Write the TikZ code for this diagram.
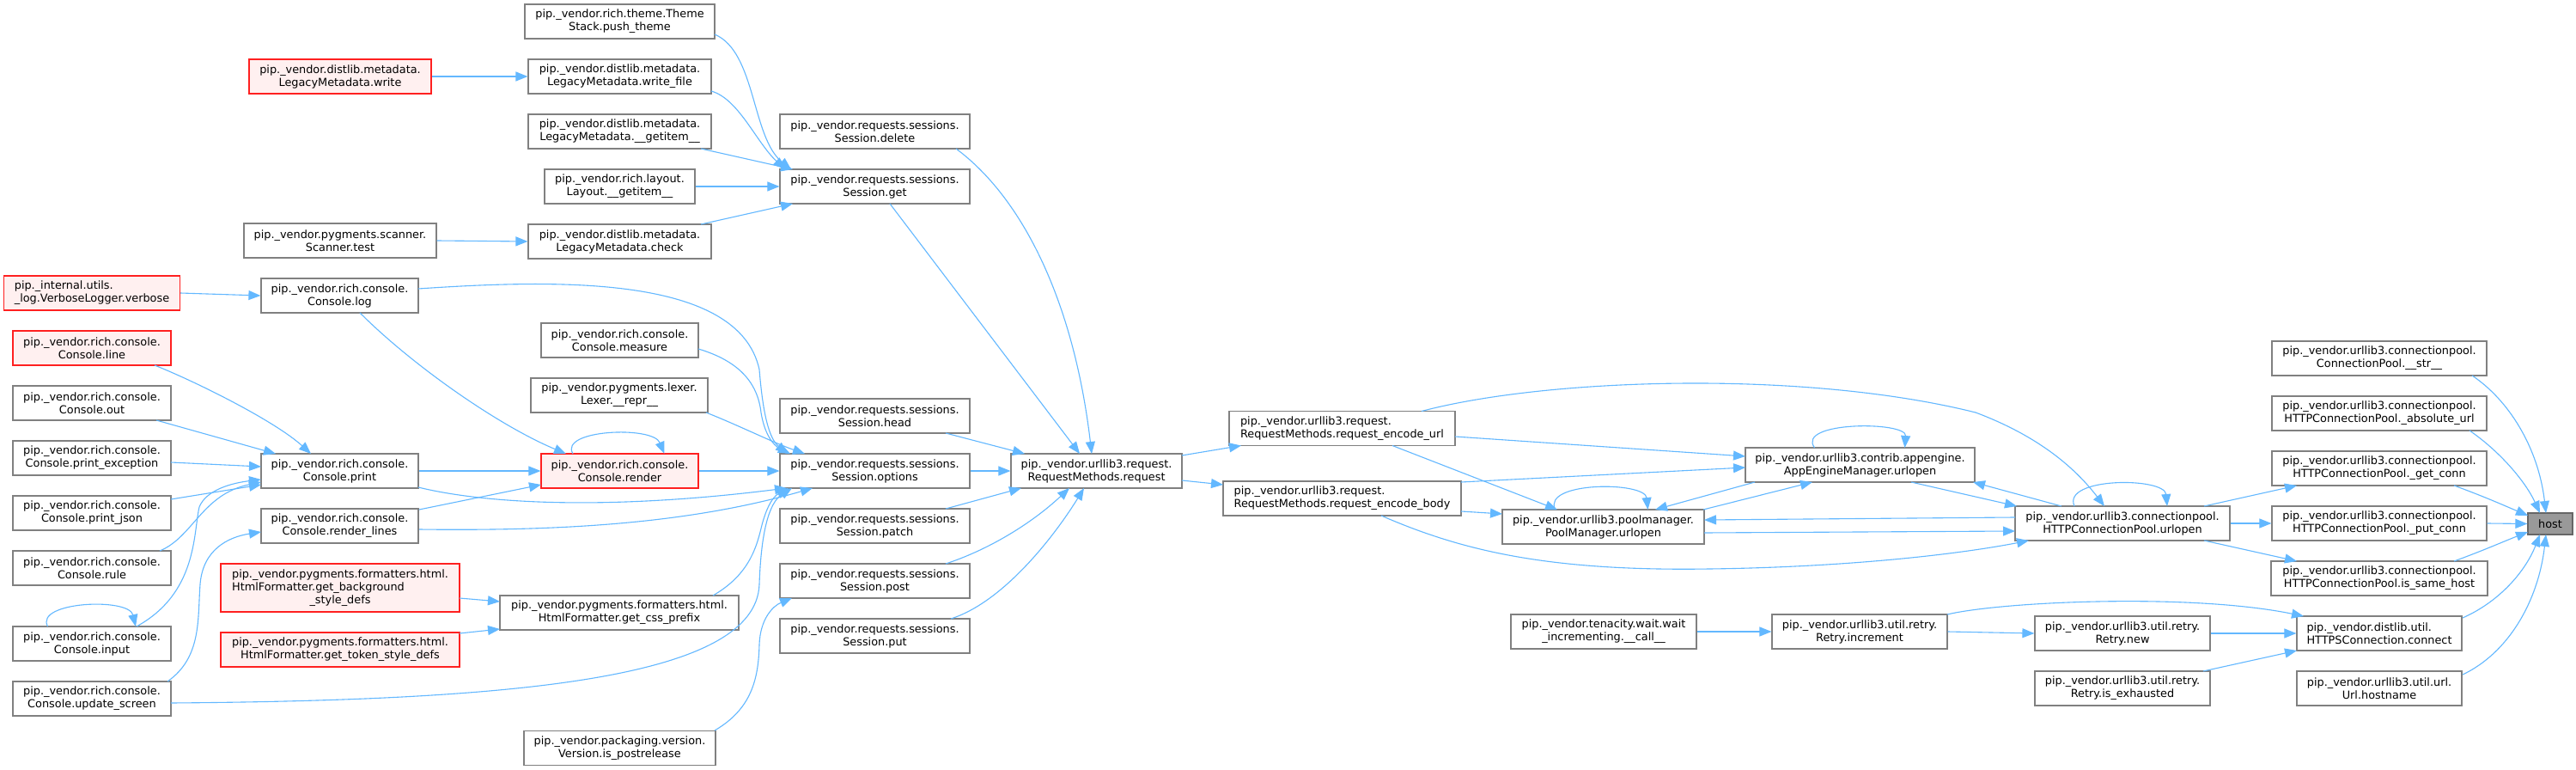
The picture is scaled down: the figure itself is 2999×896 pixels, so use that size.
\documentclass[tikz,border=0pt]{standalone}
\usepackage{fontspec}
\setmainfont{DejaVu Sans}
\usetikzlibrary{arrows.meta,calc}
\definecolor{edgeblue}{HTML}{63B8FF}
\definecolor{nodegray}{HTML}{808080}
\definecolor{redfill}{HTML}{FFF0F0}
\definecolor{redline}{HTML}{FF2020}
\definecolor{hostfill}{HTML}{999999}
\begin{document}
\begin{tikzpicture}[x=1pt,y=-1pt,
 nb/.style={draw=nodegray, fill=white, line width=1.2pt, minimum height=40pt, inner xsep=2pt, inner ysep=0pt, align=center, font=\fontsize{12.85}{15}\selectfont},
 nr/.style={nb, draw=redline, fill=redfill},
 ed/.style={draw=edgeblue, line width=1.1pt, -{Triangle[length=14pt,width=11pt]}},
]
\fill[white] (0,0) rectangle (2999,896);
\useasboundingbox (0,0) rectangle (2999,896);

% column 1
\node[nr,minimum width=205pt,align=left] (verbose) at (107,341) {pip.\_internal.utils.\\\_log.VerboseLogger.verbose};
\node[nr,minimum width=184pt] (consoleline) at (107,405) {pip.\_vendor.rich.console.\\Console.line};
\node[nb,minimum width=184pt] (consoleout) at (107,469) {pip.\_vendor.rich.console.\\Console.out};
\node[nb,minimum width=184pt] (printexception) at (107,533) {pip.\_vendor.rich.console.\\Console.print\_exception};
\node[nb,minimum width=184pt] (printjson) at (107,597) {pip.\_vendor.rich.console.\\Console.print\_json};
\node[nb,minimum width=184pt] (rule) at (107,661) {pip.\_vendor.rich.console.\\Console.rule};
\node[nb,minimum width=184pt] (input) at (107,749) {pip.\_vendor.rich.console.\\Console.input};
\node[nb,minimum width=184pt] (updatescreen) at (107,813) {pip.\_vendor.rich.console.\\Console.update\_screen};

% column 2
\node[nr,minimum width=212pt] (write) at (396,89) {pip.\_vendor.distlib.metadata.\\LegacyMetadata.write};
\node[nb,minimum width=224pt] (scannertest) at (396,280) {pip.\_vendor.pygments.scanner.\\Scanner.test};
\node[nb,minimum width=183pt] (consolelog) at (395.5,344) {pip.\_vendor.rich.console.\\Console.log};
\node[nb,minimum width=183pt] (consoleprint) at (395.5,548) {pip.\_vendor.rich.console.\\Console.print};
\node[nb,minimum width=183pt] (renderlines) at (395.5,612) {pip.\_vendor.rich.console.\\Console.render\_lines};
\node[nr,minimum width=278pt,minimum height=56pt] (bgstyledefs) at (396,684) {\begin{tabular}{@{}l@{}}pip.\_vendor.pygments.formatters.html.\\HtmlFormatter.get\_background\\\multicolumn{1}{@{}c@{}}{\_style\_defs}\end{tabular}};
\node[nr,minimum width=278pt] (tokenstyledefs) at (396,756) {pip.\_vendor.pygments.formatters.html.\\HtmlFormatter.get\_token\_style\_defs};

% column 3
\node[nb,minimum width=221pt] (pushtheme) at (721.5,25) {pip.\_vendor.rich.theme.Theme\\Stack.push\_theme};
\node[nb,minimum width=213pt] (writefile) at (721.5,89) {pip.\_vendor.distlib.metadata.\\LegacyMetadata.write\_file};
\node[nb,minimum width=213pt] (lmgetitem) at (721.5,153) {pip.\_vendor.distlib.metadata.\\LegacyMetadata.\_\_getitem\_\_};
\node[nb,minimum width=175pt] (layoutgetitem) at (721.5,217) {pip.\_vendor.rich.layout.\\Layout.\_\_getitem\_\_};
\node[nb,minimum width=213pt] (check) at (721.5,281) {pip.\_vendor.distlib.metadata.\\LegacyMetadata.check};
\node[nb,minimum width=183pt] (measure) at (721.5,396) {pip.\_vendor.rich.console.\\Console.measure};
\node[nb,minimum width=206pt] (lexerrepr) at (721,460) {pip.\_vendor.pygments.lexer.\\Lexer.\_\_repr\_\_};
\node[nr,minimum width=183pt] (render) at (721.5,548) {pip.\_vendor.rich.console.\\Console.render};
\node[nb,minimum width=278pt] (csspref) at (721,713) {pip.\_vendor.pygments.formatters.html.\\HtmlFormatter.get\_css\_prefix};
\node[nb,minimum width=223pt] (ispostrelease) at (721.5,870.5) {pip.\_vendor.packaging.version.\\Version.is\_postrelease};

% column 4
\node[nb,minimum width=221pt] (sdelete) at (1018.5,153) {pip.\_vendor.requests.sessions.\\Session.delete};
\node[nb,minimum width=221pt] (sget) at (1018.5,217) {pip.\_vendor.requests.sessions.\\Session.get};
\node[nb,minimum width=221pt] (shead) at (1018.5,484) {pip.\_vendor.requests.sessions.\\Session.head};
\node[nb,minimum width=221pt] (soptions) at (1018.5,548) {pip.\_vendor.requests.sessions.\\Session.options};
\node[nb,minimum width=221pt] (spatch) at (1018.5,612) {pip.\_vendor.requests.sessions.\\Session.patch};
\node[nb,minimum width=221pt] (spost) at (1018.5,676) {pip.\_vendor.requests.sessions.\\Session.post};
\node[nb,minimum width=221pt] (sput) at (1018.5,740) {pip.\_vendor.requests.sessions.\\Session.put};

% column 5-6
\node[nb,minimum width=199pt] (request) at (1276.5,548) {pip.\_vendor.urllib3.request.\\RequestMethods.request};
\node[nb,minimum width=263pt,align=left] (encurl) at (1562.5,498.5) {pip.\_vendor.urllib3.request.\\RequestMethods.request\_encode\_url};
\node[nb,minimum width=277pt,align=left] (encbody) at (1562.5,580) {pip.\_vendor.urllib3.request.\\RequestMethods.request\_encode\_body};

% column 7-8
\node[nb,minimum width=235pt] (poolmgr) at (1866.5,613) {pip.\_vendor.urllib3.poolmanager.\\PoolManager.urlopen};
\node[nb,minimum width=216pt] (waitinc) at (1867,735) {pip.\_vendor.tenacity.wait.wait\\\_incrementing.\_\_call\_\_};
\node[nb,minimum width=267pt] (appengine) at (2165.5,541) {pip.\_vendor.urllib3.contrib.appengine.\\AppEngineManager.urlopen};
\node[nb,minimum width=204pt] (retryinc) at (2165,735) {pip.\_vendor.urllib3.util.retry.\\Retry.increment};

% column 9
\node[nb,minimum width=250pt] (hcpurlopen) at (2471,609) {pip.\_vendor.urllib3.connectionpool.\\HTTPConnectionPool.urlopen};
\node[nb,minimum width=204pt] (retrynew) at (2471,737) {pip.\_vendor.urllib3.util.retry.\\Retry.new};
\node[nb,minimum width=204pt] (retryexh) at (2471,801) {pip.\_vendor.urllib3.util.retry.\\Retry.is\_exhausted};

% column 10
\node[nb,minimum width=250pt] (cpstr) at (2770,417) {pip.\_vendor.urllib3.connectionpool.\\ConnectionPool.\_\_str\_\_};
\node[nb,minimum width=250pt] (absurl) at (2770,481) {pip.\_vendor.urllib3.connectionpool.\\HTTPConnectionPool.\_absolute\_url};
\node[nb,minimum width=250pt] (getconn) at (2770,545) {pip.\_vendor.urllib3.connectionpool.\\HTTPConnectionPool.\_get\_conn};
\node[nb,minimum width=250pt] (putconn) at (2770,609) {pip.\_vendor.urllib3.connectionpool.\\HTTPConnectionPool.\_put\_conn};
\node[nb,minimum width=252pt] (samehost) at (2770,673) {pip.\_vendor.urllib3.connectionpool.\\HTTPConnectionPool.is\_same\_host};
\node[nb,minimum width=192pt,align=left] (connect) at (2770,737) {pip.\_vendor.distlib.util.\\HTTPSConnection.connect};
\node[nb,minimum width=192pt] (hostname) at (2770,801) {pip.\_vendor.urllib3.util.url.\\Url.hostname};

\node[nb,draw=black!60,fill=hostfill,minimum width=52pt,minimum height=25pt] (host) at (2969,609.5) {host};

% edges
\draw[ed] ($(pushtheme)+(110.5,15)$) .. controls (880,60) and (875,160) .. ($(sget)+(-97.5,-20)$);
\draw[ed] (write.east) -- (writefile.west);
\draw[ed] ($(writefile)+(106.5,17)$) .. controls (860,115) and (880,165) .. ($(sget)+(-104.5,-20)$);
\draw[ed] ($(lmgetitem)+(94.5,20)$) -- ($(sget)+(-95.5,-20)$);
\draw[ed] (layoutgetitem.east) -- (sget.west);
\draw[ed] ($(check)+(94.5,-20)$) -- ($(sget)+(-95.5,20)$);
\draw[ed] (scannertest.east) -- (check.west);
\draw[ed] (verbose.east) -- (consolelog.west);
\draw[ed] ($(consolelog)+(91.5,-8)$) .. controls (650,325) and (860,320) .. (884,430) .. controls (888,480) and (895,510) .. ($(soptions)+(-101.5,-20)$);
\draw[ed] ($(consolelog)+(23.5,20)$) .. controls (480,425) and (580,495) .. ($(render)+(-62.5,-20)$);
\draw[ed] ($(consoleline)+(73,20)$) .. controls (230,445) and (320,490) .. ($(consoleprint)+(-33.5,-20)$);
\draw[ed] ($(consoleout)+(75,20)$) -- ($(consoleprint)+(-74.5,-20)$);
\draw[ed] ($(printexception)+(92,5)$) -- ($(consoleprint)+(-91.5,-5)$);
\draw[ed] ($(printjson)+(92,-16)$) -- ($(consoleprint)+(-91.5,16)$);
\draw[ed] ($(rule)+(79,-20)$) .. controls (225,625) and (235,575) .. ($(consoleprint)+(-91.5,13)$);
\draw[ed] ($(input)+(52,-20)$) .. controls (230,690) and (225,620) .. (232,590) .. controls (240,570) and (270,562) .. ($(consoleprint)+(-91.5,10)$);
\draw[ed] ($(input)+(-51.5,-20)$) .. controls (40,700) and (150,695) .. ($(input)+(51,-20)$);
\draw[ed] ($(updatescreen)+(88,-20)$) .. controls (235,765) and (230,720) .. (233,680) .. controls (236,640) and (265,625) .. ($(renderlines)+(-91.5,7)$);
\draw[ed] ($(updatescreen)+(92,5)$) .. controls (600,815) and (880,790) .. (884,680) .. controls (886,620) and (895,585) .. ($(soptions)+(-96.5,20)$);
\draw[ed] (consoleprint.east) -- (render.west);
\draw[ed] ($(consoleprint)+(91.5,19)$) .. controls (560,585) and (700,595) .. ($(soptions)+(-102.5,20)$);
\draw[ed] ($(renderlines)+(92.5,-19)$) -- ($(render)+(-91.5,16)$);
\draw[ed] ($(renderlines)+(92.5,4)$) .. controls (650,618) and (800,610) .. ($(soptions)+(-72.5,20)$);
\draw[ed] (render.east) -- (soptions.west);
\draw[ed] ($(render)+(-54.5,-20)$) .. controls (650,500) and (760,495) .. ($(render)+(52,-20)$);
\draw[ed] ($(measure)+(91.5,10)$) .. controls (860,420) and (882,445) .. (886,480) .. controls (890,505) and (900,518) .. ($(soptions)+(-98.5,-20)$);
\draw[ed] ($(lexerrepr)+(101,20)$) .. controls (860,495) and (900,515) .. ($(soptions)+(-81.5,-20)$);
\draw[ed] ($(bgstyledefs)+(139,12)$) -- ($(csspref)+(-139,-13)$);
\draw[ed] ($(tokenstyledefs)+(139,-19)$) -- ($(csspref)+(-139,19)$);
\draw[ed] ($(csspref)+(109,-20)$) .. controls (870,670) and (880,640) .. (886,615) .. controls (892,590) and (900,578) .. ($(soptions)+(-100.5,20)$);
\draw[ed] ($(ispostrelease)+(110.5,-20.5)$) .. controls (875,825) and (883,790) .. (884,750) .. controls (885,720) and (900,705) .. ($(spost)+(-96.5,20)$);
\draw[ed] ($(sdelete)+(94.5,20)$) .. controls (1190,230) and (1250,350) .. ($(request)+(-5.5,-20)$);
\draw[ed] ($(sget)+(17.5,20)$) -- ($(request)+(-19.5,-20)$);
\draw[ed] ($(shead)+(82.5,20)$) -- ($(request)+(-83.5,-20)$);
\draw[ed] (soptions.east) -- (request.west);
\draw[ed] ($(spatch)+(82.5,-20)$) -- ($(request)+(-87.5,20)$);
\draw[ed] ($(spost)+(82.5,-20)$) .. controls (1150,640) and (1200,610) .. ($(request)+(-31.5,20)$);
\draw[ed] ($(sput)+(88.5,-20)$) .. controls (1170,700) and (1230,620) .. ($(request)+(-14.5,20)$);
\draw[ed] ($(request)+(99.5,-18)$) -- ($(encurl)+(-117.5,20)$);
\draw[ed] ($(request)+(99.5,11)$) -- ($(encbody)+(-138.5,-16)$);
\draw[ed] ($(encurl)+(131.5,9.5)$) -- ($(appengine)+(-133.5,-10)$);
\draw[ed] ($(encurl)+(58.5,20)$) -- ($(poolmgr)+(-53.5,-20)$);
\draw[ed] ($(encurl)+(92.5,-20)$) .. controls (1800,440) and (2100,430) .. (2300,480) .. controls (2380,510) and (2420,550) .. ($(hcpurlopen)+(-21,-20)$);
\draw[ed] ($(encbody)+(138.5,-19)$) -- ($(appengine)+(-133.5,3)$);
\draw[ed] ($(encbody)+(138.5,15)$) -- ($(poolmgr)+(-117.5,-15)$);
\draw[ed] ($(encbody)+(45.5,20)$) .. controls (1700,640) and (1800,665) .. (1990,662) .. controls (2150,660) and (2280,645) .. ($(hcpurlopen)+(-109,20)$);
\draw[ed] ($(appengine)+(-53,-20)$) .. controls (2090,490) and (2220,490) .. ($(appengine)+(52,-20)$);
\draw[ed] ($(appengine)+(-122.5,20)$) -- ($(poolmgr)+(60.5,-20)$);
\draw[ed] ($(poolmgr)+(116.5,-20)$) -- ($(appengine)+(-55.5,20)$);
\draw[ed] ($(appengine)+(59.5,20)$) -- ($(hcpurlopen)+(-123,-20)$);
\draw[ed] ($(hcpurlopen)+(-71,-20)$) -- ($(appengine)+(131.5,20)$);
\draw[ed] ($(hcpurlopen)+(-125,-7)$) -- ($(poolmgr)+(117.5,-8)$);
\draw[ed] ($(poolmgr)+(117.5,7)$) -- ($(hcpurlopen)+(-125,9)$);
\draw[ed] ($(poolmgr)+(-56,-20)$) .. controls (1795,560) and (1915,560) .. ($(poolmgr)+(52,-20)$);
\draw[ed] ($(hcpurlopen)+(-56,-20)$) .. controls (2400,555) and (2520,555) .. ($(hcpurlopen)+(52,-20)$);
\draw[ed] ($(hcpurlopen)+(95,-20)$) -- ($(getconn)+(-96,20)$);
\draw[ed] (hcpurlopen.east) -- (putconn.west);
\draw[ed] ($(hcpurlopen)+(95,20)$) -- ($(samehost)+(-96,-20)$);
\draw[ed] ($(cpstr)+(108,20)$) .. controls (2920,465) and (2955,520) .. ($(host)+(-5,-12.5)$);
\draw[ed] ($(absurl)+(105,20)$) .. controls (2910,525) and (2940,560) .. ($(host)+(-12,-12.5)$);
\draw[ed] ($(getconn)+(87,20)$) .. controls (2890,577) and (2915,588) .. ($(host)+(-26,-9.5)$);
\draw[ed] (putconn.east) -- (host.west);
\draw[ed] ($(samehost)+(87,-20)$) .. controls (2890,641) and (2915,630) .. ($(host)+(-26,9.5)$);
\draw[ed] ($(connect)+(97,-18)$) .. controls (2910,700) and (2940,665) .. ($(host)+(-12,12.5)$);
\draw[ed] ($(hostname)+(97,-16)$) .. controls (2920,760) and (2955,700) .. ($(host)+(-5,12.5)$);
\draw[ed] (waitinc.east) -- (retryinc.west);
\draw[ed] (retryinc.east) -- (retrynew.west);
\draw[ed] ($(retryinc)+(102,-20)$) .. controls (2330,700) and (2550,690) .. ($(connect)+(-88,-20)$);
\draw[ed] (retrynew.east) -- (connect.west);
\draw[ed] ($(retryexh)+(94,-20)$) -- ($(connect)+(-96,20)$);
\end{tikzpicture}
\end{document}
